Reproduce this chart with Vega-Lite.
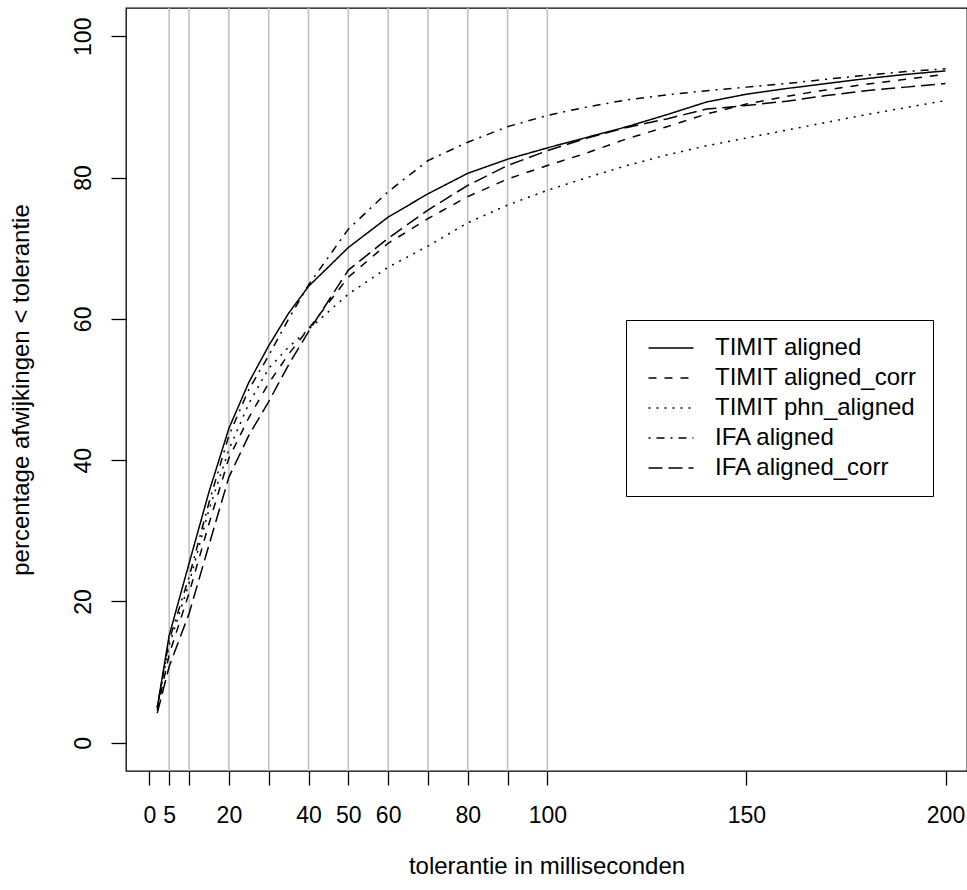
{
  "$schema": "https://vega.github.io/schema/vega-lite/v6.json",
  "width": 841,
  "height": 763,
  "autosize": "none",
  "padding": {"left": 126, "top": 8, "right": 0, "bottom": 119},
  "background": "white",
  "config": {
    "view": {"stroke": "black", "strokeWidth": 1.3},
    "font": "Liberation Sans",
    "axis": {
      "domain": false,
      "grid": false,
      "tickColor": "black",
      "tickWidth": 1.3,
      "labelColor": "black",
      "labelFontSize": 23,
      "labelFont": "Liberation Sans",
      "titleFont": "Liberation Sans",
      "titleFontSize": 24,
      "titleFontWeight": "normal",
      "titleColor": "black",
      "labelOverlap": false,
      "labelFlush": false,
      "labelBound": false
    }
  },
  "datasets": {
    "grid": [
      {"ms": 5}, {"ms": 10}, {"ms": 20}, {"ms": 30}, {"ms": 40}, {"ms": 50},
      {"ms": 60}, {"ms": 70}, {"ms": 80}, {"ms": 90}, {"ms": 100}
    ],
    "curves": [
      {"series": "TIMIT aligned", "ms": 2, "pct": 5.0},
      {"series": "TIMIT aligned", "ms": 5, "pct": 15.2},
      {"series": "TIMIT aligned", "ms": 10, "pct": 25.4},
      {"series": "TIMIT aligned", "ms": 15, "pct": 35.5},
      {"series": "TIMIT aligned", "ms": 20, "pct": 44.5},
      {"series": "TIMIT aligned", "ms": 25, "pct": 51.0},
      {"series": "TIMIT aligned", "ms": 30, "pct": 56.2},
      {"series": "TIMIT aligned", "ms": 35, "pct": 60.8},
      {"series": "TIMIT aligned", "ms": 40, "pct": 64.6},
      {"series": "TIMIT aligned", "ms": 50, "pct": 70.1},
      {"series": "TIMIT aligned", "ms": 60, "pct": 74.4},
      {"series": "TIMIT aligned", "ms": 70, "pct": 77.7},
      {"series": "TIMIT aligned", "ms": 80, "pct": 80.6},
      {"series": "TIMIT aligned", "ms": 90, "pct": 82.6},
      {"series": "TIMIT aligned", "ms": 100, "pct": 84.2},
      {"series": "TIMIT aligned", "ms": 110, "pct": 85.7},
      {"series": "TIMIT aligned", "ms": 120, "pct": 87.2},
      {"series": "TIMIT aligned", "ms": 130, "pct": 88.9},
      {"series": "TIMIT aligned", "ms": 140, "pct": 90.7},
      {"series": "TIMIT aligned", "ms": 150, "pct": 91.8},
      {"series": "TIMIT aligned", "ms": 160, "pct": 92.6},
      {"series": "TIMIT aligned", "ms": 170, "pct": 93.3},
      {"series": "TIMIT aligned", "ms": 180, "pct": 94.0},
      {"series": "TIMIT aligned", "ms": 190, "pct": 94.6},
      {"series": "TIMIT aligned", "ms": 200, "pct": 95.1},

      {"series": "TIMIT aligned_corr", "ms": 2, "pct": 4.6},
      {"series": "TIMIT aligned_corr", "ms": 5, "pct": 12.5},
      {"series": "TIMIT aligned_corr", "ms": 10, "pct": 21.2},
      {"series": "TIMIT aligned_corr", "ms": 15, "pct": 31.0},
      {"series": "TIMIT aligned_corr", "ms": 20, "pct": 40.3},
      {"series": "TIMIT aligned_corr", "ms": 25, "pct": 46.0},
      {"series": "TIMIT aligned_corr", "ms": 30, "pct": 50.9},
      {"series": "TIMIT aligned_corr", "ms": 35, "pct": 55.0},
      {"series": "TIMIT aligned_corr", "ms": 40, "pct": 58.6},
      {"series": "TIMIT aligned_corr", "ms": 50, "pct": 65.9},
      {"series": "TIMIT aligned_corr", "ms": 60, "pct": 70.7},
      {"series": "TIMIT aligned_corr", "ms": 70, "pct": 74.2},
      {"series": "TIMIT aligned_corr", "ms": 80, "pct": 77.3},
      {"series": "TIMIT aligned_corr", "ms": 90, "pct": 79.8},
      {"series": "TIMIT aligned_corr", "ms": 100, "pct": 81.7},
      {"series": "TIMIT aligned_corr", "ms": 110, "pct": 83.5},
      {"series": "TIMIT aligned_corr", "ms": 120, "pct": 85.5},
      {"series": "TIMIT aligned_corr", "ms": 130, "pct": 87.2},
      {"series": "TIMIT aligned_corr", "ms": 140, "pct": 89.0},
      {"series": "TIMIT aligned_corr", "ms": 150, "pct": 90.4},
      {"series": "TIMIT aligned_corr", "ms": 160, "pct": 91.5},
      {"series": "TIMIT aligned_corr", "ms": 170, "pct": 92.4},
      {"series": "TIMIT aligned_corr", "ms": 180, "pct": 93.2},
      {"series": "TIMIT aligned_corr", "ms": 190, "pct": 93.9},
      {"series": "TIMIT aligned_corr", "ms": 200, "pct": 94.6},

      {"series": "TIMIT phn_aligned", "ms": 2, "pct": 5.0},
      {"series": "TIMIT phn_aligned", "ms": 5, "pct": 13.8},
      {"series": "TIMIT phn_aligned", "ms": 10, "pct": 22.6},
      {"series": "TIMIT phn_aligned", "ms": 15, "pct": 33.0},
      {"series": "TIMIT phn_aligned", "ms": 20, "pct": 41.5},
      {"series": "TIMIT phn_aligned", "ms": 25, "pct": 48.0},
      {"series": "TIMIT phn_aligned", "ms": 30, "pct": 53.0},
      {"series": "TIMIT phn_aligned", "ms": 35, "pct": 56.0},
      {"series": "TIMIT phn_aligned", "ms": 40, "pct": 58.5},
      {"series": "TIMIT phn_aligned", "ms": 50, "pct": 63.5},
      {"series": "TIMIT phn_aligned", "ms": 60, "pct": 67.3},
      {"series": "TIMIT phn_aligned", "ms": 70, "pct": 70.3},
      {"series": "TIMIT phn_aligned", "ms": 80, "pct": 73.6},
      {"series": "TIMIT phn_aligned", "ms": 90, "pct": 76.1},
      {"series": "TIMIT phn_aligned", "ms": 100, "pct": 78.2},
      {"series": "TIMIT phn_aligned", "ms": 110, "pct": 80.0},
      {"series": "TIMIT phn_aligned", "ms": 120, "pct": 81.7},
      {"series": "TIMIT phn_aligned", "ms": 130, "pct": 83.2},
      {"series": "TIMIT phn_aligned", "ms": 140, "pct": 84.5},
      {"series": "TIMIT phn_aligned", "ms": 150, "pct": 85.6},
      {"series": "TIMIT phn_aligned", "ms": 160, "pct": 86.7},
      {"series": "TIMIT phn_aligned", "ms": 170, "pct": 87.8},
      {"series": "TIMIT phn_aligned", "ms": 180, "pct": 88.9},
      {"series": "TIMIT phn_aligned", "ms": 190, "pct": 89.9},
      {"series": "TIMIT phn_aligned", "ms": 200, "pct": 90.9},

      {"series": "IFA aligned", "ms": 2, "pct": 5.0},
      {"series": "IFA aligned", "ms": 5, "pct": 14.5},
      {"series": "IFA aligned", "ms": 10, "pct": 23.5},
      {"series": "IFA aligned", "ms": 15, "pct": 34.0},
      {"series": "IFA aligned", "ms": 20, "pct": 43.5},
      {"series": "IFA aligned", "ms": 25, "pct": 50.0},
      {"series": "IFA aligned", "ms": 30, "pct": 54.8},
      {"series": "IFA aligned", "ms": 35, "pct": 60.0},
      {"series": "IFA aligned", "ms": 40, "pct": 64.8},
      {"series": "IFA aligned", "ms": 50, "pct": 72.7},
      {"series": "IFA aligned", "ms": 60, "pct": 78.0},
      {"series": "IFA aligned", "ms": 70, "pct": 82.4},
      {"series": "IFA aligned", "ms": 80, "pct": 85.0},
      {"series": "IFA aligned", "ms": 90, "pct": 87.2},
      {"series": "IFA aligned", "ms": 100, "pct": 88.8},
      {"series": "IFA aligned", "ms": 110, "pct": 90.0},
      {"series": "IFA aligned", "ms": 120, "pct": 91.0},
      {"series": "IFA aligned", "ms": 130, "pct": 91.7},
      {"series": "IFA aligned", "ms": 140, "pct": 92.3},
      {"series": "IFA aligned", "ms": 150, "pct": 92.8},
      {"series": "IFA aligned", "ms": 160, "pct": 93.3},
      {"series": "IFA aligned", "ms": 170, "pct": 93.9},
      {"series": "IFA aligned", "ms": 180, "pct": 94.5},
      {"series": "IFA aligned", "ms": 190, "pct": 95.0},
      {"series": "IFA aligned", "ms": 200, "pct": 95.4},

      {"series": "IFA aligned_corr", "ms": 2, "pct": 4.2},
      {"series": "IFA aligned_corr", "ms": 5, "pct": 10.8},
      {"series": "IFA aligned_corr", "ms": 10, "pct": 18.3},
      {"series": "IFA aligned_corr", "ms": 15, "pct": 28.0},
      {"series": "IFA aligned_corr", "ms": 20, "pct": 37.6},
      {"series": "IFA aligned_corr", "ms": 25, "pct": 43.5},
      {"series": "IFA aligned_corr", "ms": 30, "pct": 48.3},
      {"series": "IFA aligned_corr", "ms": 35, "pct": 53.5},
      {"series": "IFA aligned_corr", "ms": 40, "pct": 58.2},
      {"series": "IFA aligned_corr", "ms": 50, "pct": 66.9},
      {"series": "IFA aligned_corr", "ms": 60, "pct": 71.4},
      {"series": "IFA aligned_corr", "ms": 70, "pct": 75.4},
      {"series": "IFA aligned_corr", "ms": 80, "pct": 78.9},
      {"series": "IFA aligned_corr", "ms": 90, "pct": 81.7},
      {"series": "IFA aligned_corr", "ms": 100, "pct": 83.8},
      {"series": "IFA aligned_corr", "ms": 110, "pct": 85.6},
      {"series": "IFA aligned_corr", "ms": 120, "pct": 87.1},
      {"series": "IFA aligned_corr", "ms": 130, "pct": 88.3},
      {"series": "IFA aligned_corr", "ms": 140, "pct": 89.7},
      {"series": "IFA aligned_corr", "ms": 150, "pct": 90.2},
      {"series": "IFA aligned_corr", "ms": 160, "pct": 90.8},
      {"series": "IFA aligned_corr", "ms": 170, "pct": 91.6},
      {"series": "IFA aligned_corr", "ms": 180, "pct": 92.3},
      {"series": "IFA aligned_corr", "ms": 190, "pct": 92.8},
      {"series": "IFA aligned_corr", "ms": 200, "pct": 93.3}
    ]
  },
  "encoding": {
    "x": {
      "field": "ms",
      "type": "quantitative",
      "scale": {"domain": [-5.85, 205.4], "nice": false, "zero": false},
      "axis": {
        "values": [0, 5, 10, 20, 30, 40, 50, 60, 70, 80, 90, 100, 150, 200],
        "labelExpr": "indexof([10, 30, 70, 90], datum.value) >= 0 ? '' : datum.label",
        "title": "tolerantie in milliseconden",
        "tickSize": 14,
        "labelPadding": 19,
        "titlePadding": 27
      }
    }
  },
  "layer": [
    {
      "data": {"name": "grid"},
      "mark": {"type": "rule", "color": "#bebebe", "strokeWidth": 1.5}
    },
    {
      "data": {"name": "curves"},
      "mark": {"type": "line", "color": "black", "strokeWidth": 1.5},
      "encoding": {
        "y": {
          "field": "pct",
          "type": "quantitative",
          "scale": {"domain": [-4, 104], "nice": false, "zero": false},
          "axis": {
            "values": [0, 20, 40, 60, 80, 100],
            "title": "percentage afwijkingen < tolerantie",
            "tickSize": 15,
            "labelAngle": 270,
            "labelAlign": "center",
            "labelBaseline": "alphabetic",
            "labelPadding": 21,
            "titleBaseline": "alphabetic",
            "titlePadding": 44
          }
        },
        "strokeDash": {
          "field": "series",
          "type": "nominal",
          "scale": {
            "domain": ["TIMIT aligned", "TIMIT aligned_corr", "TIMIT phn_aligned", "IFA aligned", "IFA aligned_corr"],
            "range": [[1, 0], [8, 8], [2, 6], [2, 6, 8, 6], [14, 6]]
          },
          "legend": {
            "title": null,
            "orient": "none",
            "legendX": 500,
            "legendY": 312,
            "symbolType": "M-4.5,0H4.5",
            "symbolSize": 100,
            "symbolStrokeWidth": 1.5,
            "symbolStrokeColor": "black",
            "symbolFillColor": "transparent",
            "rowPadding": 6,
            "padding": 16,
            "symbolOffset": 17,
            "labelOffset": 32,
            "labelFontSize": 24,
            "labelFont": "Liberation Sans",
            "labelColor": "black",
            "labelLimit": 400,
            "strokeColor": "black",
            "fillColor": "white"
          }
        }
      }
    }
  ]
}
